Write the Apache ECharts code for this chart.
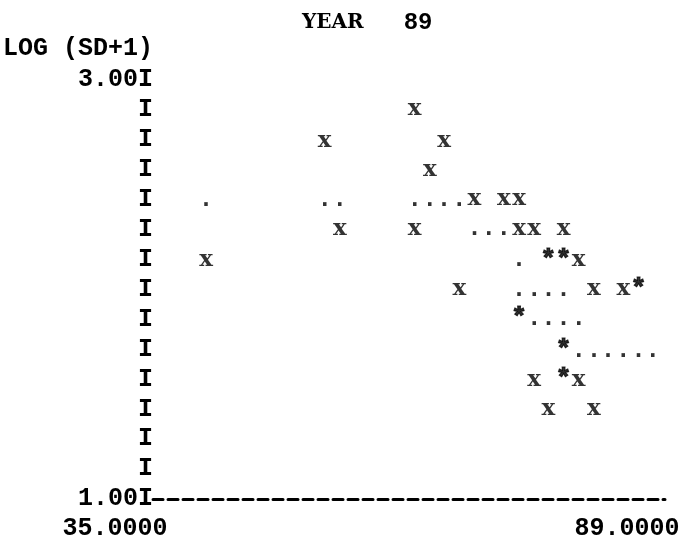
<!DOCTYPE html>
<html><head><meta charset="utf-8">
<script src="https://cdn.jsdelivr.net/npm/echarts@6/dist/echarts.min.js"></script>
<style>html,body{margin:0;padding:0;background:#fff}#c{width:683px;height:542px}</style>
</head><body><div id="c"></div>
<script>
// ---- data ----
const titleWord = 'YEAR';
const titleYear = '89';
const yName = 'LOG (SD+1)';
const xRange = [35, 89];
const yRange = [1, 3];
const xTickLabels = [35, 89];
// observations ("x")
const crossYear = [62.6, 53.1, 65.7, 64.2, 68.9, 72.0, 73.6, 54.7, 62.6, 73.6, 75.2, 78.3, 40.6, 79.9, 67.3, 81.5, 84.6, 75.2, 79.9, 76.7, 81.5];
const crossLog  = [2.86, 2.71, 2.71, 2.57, 2.43, 2.43, 2.43, 2.29, 2.29, 2.29, 2.29, 2.29, 2.14, 2.14, 2.00, 2.00, 2.00, 1.57, 1.57, 1.43, 1.43];
// coincident points ("*")
const starYear = [76.7, 78.3, 86.2, 73.6, 78.3, 78.3];
const starLog  = [2.14, 2.14, 2.00, 1.86, 1.71, 1.57];
// fitted curve (".")
const dotYear = [40.6, 53.1, 54.7, 62.6, 64.2, 65.7, 67.3, 68.9, 70.4, 72.0, 73.6, 73.6, 75.2, 76.7, 78.3, 75.2, 76.7, 78.3, 79.9, 79.9, 81.5, 83.0, 84.6, 86.2, 87.7];
const dotLog  = [2.43, 2.43, 2.43, 2.43, 2.43, 2.43, 2.43, 2.29, 2.29, 2.29, 2.14, 2.00, 2.00, 2.00, 2.00, 1.86, 1.86, 1.86, 1.86, 1.71, 1.71, 1.71, 1.71, 1.71, 1.71];

// ---- chart ----
const FONT = {fontFamily: 'Liberation Mono', fontWeight: 'bold', fontSize: 25, color: '#000'};
const SERIF = {fontFamily: 'DejaVu Serif', fontWeight: 'bold', fontSize: 23, color: '#000'};
const STAR = {fontFamily: 'Liberation Mono', fontWeight: 'bold', fontSize: 26, color: '#000', textBorderColor: '#000', textBorderWidth: 1.2};
const pairs = (xs, ys) => xs.map((x, i) => [x, ys[i]]);
function glyphSeries(ch, xs, ys, font) {
  return {
    type: 'scatter', data: pairs(xs, ys), symbol: 'circle', symbolSize: 1,
    itemStyle: {color: 'rgba(0,0,0,0)'}, silent: true,
    label: Object.assign({show: true, position: 'inside', formatter: ch}, font)
  };
}
const chart = echarts.init(document.getElementById('c'), null, {renderer: 'canvas'});
chart.setOption({
  animation: false,
  backgroundColor: '#fff',
  title: {
    text: '{a|' + titleWord + '}{s|}{b|' + titleYear + '}', left: 297, top: 4,
    textStyle: {rich: {
      a: {fontFamily: 'DejaVu Serif', fontWeight: 'bold', fontSize: 20, color: '#000', height: 28},
      s: {width: 40, height: 28},
      b: {fontFamily: 'Liberation Mono', fontWeight: 'bold', fontSize: 24, color: '#000', height: 28}
    }}
  },
  grid: {left: 150, right: 18, top: 80, bottom: 43, containLabel: false},
  xAxis: {
    type: 'value', min: xRange[0], max: xRange[1],
    axisLine: {show: true, lineStyle: {color: '#000', width: 3, type: [10, 5]}},
    axisTick: {show: false}, splitLine: {show: false},
    axisLabel: Object.assign({customValues: xTickLabels, formatter: v => v.toFixed(4), margin: 17, padding: [0, 76, 0, 0]}, FONT)
  },
  yAxis: {
    type: 'value', min: yRange[0], max: yRange[1], interval: (yRange[1] - yRange[0]) / 14,
    name: yName, nameLocation: 'end', nameGap: 19,
    nameTextStyle: Object.assign({align: 'right', verticalAlign: 'bottom'}, FONT),
    axisLine: {show: false}, axisTick: {show: false}, splitLine: {show: false},
    axisLabel: Object.assign({margin: 0, formatter: v => v > 2.99 ? '3.00I' : (v < 1.01 ? '1.00I' : 'I')}, FONT)
  },
  series: [
    glyphSeries('.', dotYear, dotLog, FONT),
    glyphSeries('x', crossYear, crossLog, SERIF),
    glyphSeries('*', starYear, starLog, STAR)
  ]
});
</script></body></html>
